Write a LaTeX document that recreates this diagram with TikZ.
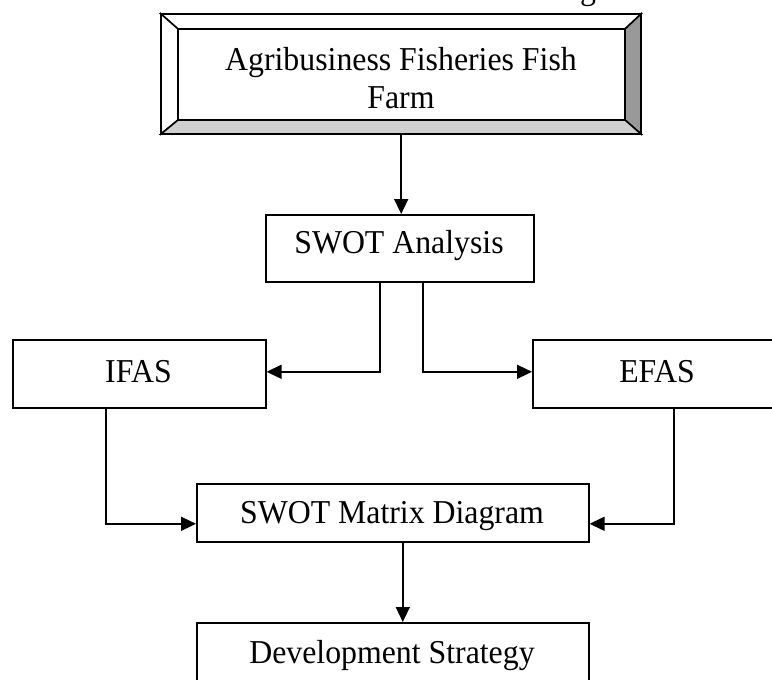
\documentclass[tikz,border=0pt]{standalone}
\usepackage{fontspec}
\usepackage{graphicx}
\setmainfont{Liberation Serif}
\usetikzlibrary{arrows.meta}
\newcommand\talltext[1]{\scalebox{1}[1.05]{#1}}
\begin{document}
\begin{tikzpicture}[x=1pt,y=-1pt,
  box/.style={draw=black,line width=1.6pt,inner sep=0pt,anchor=north west},
  lbl/.style={anchor=base,inner sep=0pt,font=\fontsize{31.8}{37}\selectfont},
  conn/.style={draw=black,line width=1.6pt,-{Triangle[length=15pt,width=14pt]}},
  bevel/.style={draw=black,line width=1.6pt,line join=miter}]
\useasboundingbox (0,0) rectangle (772,680);
% partly cut-off text at the top
\node[lbl,anchor=base west] (cut) at (580,-1) {\talltext{g}};
% bevelled top box
\coordinate (o1) at (161,14); \coordinate (o2) at (641,14);
\coordinate (o3) at (641,134); \coordinate (o4) at (161,134);
\coordinate (i1) at (178,29); \coordinate (i2) at (625,29);
\coordinate (i3) at (625,120); \coordinate (i4) at (178,120);
\filldraw[bevel,fill=white] (o1) -- (o2) -- (i2) -- (i1) -- cycle;
\filldraw[bevel,fill=white] (o1) -- (i1) -- (i4) -- (o4) -- cycle;
\filldraw[bevel,fill=black!40] (o2) -- (o3) -- (i3) -- (i2) -- cycle;
\filldraw[bevel,fill=black!19] (o4) -- (i4) -- (i3) -- (o3) -- cycle;
\node[inner sep=0pt,minimum width=480pt,minimum height=120pt,anchor=north west] (farm) at (161,14) {};
\node[lbl] (farmA) at (401,70) {\talltext{Agribusiness Fisheries Fish}};
\node[lbl] (farmB) at (401,108) {\talltext{Farm}};
% boxes
\node[box,minimum width=268pt,minimum height=67pt] (swot) at (265,214) {};
\node[lbl] (swotl) at (399,253) {\talltext{SWOT Analysis}};
\node[box,minimum width=253pt,minimum height=68pt] (ifas) at (12,339) {};
\node[lbl] (ifasl) at (138.5,382) {\talltext{IFAS}};
\node[box,minimum width=250pt,minimum height=68pt] (efas) at (532,339) {};
\node[lbl] (efasl) at (657,382) {\talltext{EFAS}};
\node[box,minimum width=392pt,minimum height=58pt] (matrix) at (196,483) {};
\node[lbl] (matrixl) at (392,523) {\talltext{SWOT Matrix Diagram}};
\node[box,minimum width=392pt,minimum height=90pt] (dev) at (196,622) {};
\node[lbl] (devl) at (392,663) {\talltext{Development Strategy}};
% connectors
\draw[conn] (farm.south) -- (farm.south |- swot.north);
\draw[conn] ([xshift=-20pt]swot.south) |- ([yshift=2pt]ifas.east);
\draw[conn] ([xshift=23pt]swot.south) |- ([yshift=2pt]efas.west);
\draw[conn] ([xshift=-33.5pt]ifas.south) |- ([yshift=-11pt]matrix.west);
\draw[conn] ([xshift=16pt]efas.south) |- ([yshift=-11pt]matrix.east);
\draw[conn] ([xshift=10pt]matrix.south) -- ([xshift=10pt]dev.north);
\end{tikzpicture}
\end{document}
